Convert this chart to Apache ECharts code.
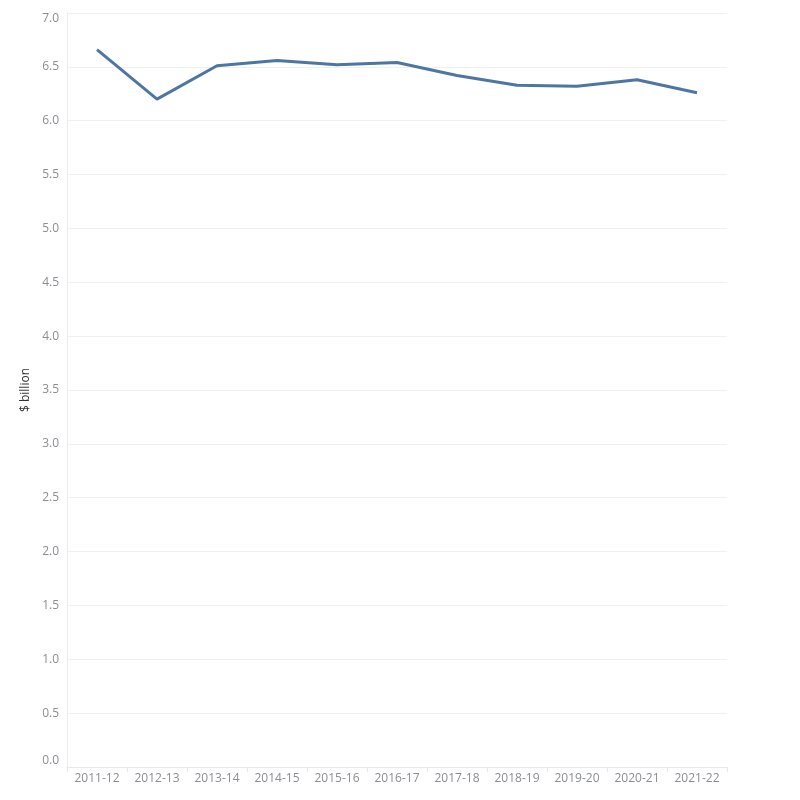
<!DOCTYPE html>
<html>
<head>
<meta charset="utf-8">
<script src="https://cdn.jsdelivr.net/npm/echarts@6/dist/echarts.min.js"></script>
<style>
  html, body { margin: 0; padding: 0; background: #fff; }
  #chart { width: 800px; height: 800px; }
</style>
</head>
<body>
<div id="chart"></div>
<script>
const years = [
  '2011-12', '2012-13', '2013-14', '2014-15', '2015-16', '2016-17',
  '2017-18', '2018-19', '2019-20', '2020-21', '2021-22'
];

const spending = [6.66, 6.20, 6.51, 6.56, 6.52, 6.54, 6.42, 6.33, 6.32, 6.38, 6.26];

const chart = echarts.init(document.getElementById('chart'));

chart.setOption({
  animation: false,
  grid: { left: 67, right: 73, top: 13, bottom: 33 },
  xAxis: {
    type: 'category',
    data: years,
    boundaryGap: true,
    axisLine: { show: true, lineStyle: { color: '#e8e8e8' } },
    axisTick: { show: true, length: 5, lineStyle: { color: '#e8e8e8' } },
    axisLabel: {
      color: '#8a8d93',
      fontFamily: 'Open Sans',
      fontSize: 12,
      margin: 6
    },
    splitLine: { show: false }
  },
  yAxis: {
    type: 'value',
    min: 0,
    max: 7,
    interval: 0.5,
    name: '$ billion',
    nameLocation: 'middle',
    nameGap: 31,
    nameTextStyle: { color: '#333', fontFamily: 'Open Sans', fontSize: 12 },
    axisLine: { show: true, lineStyle: { color: '#ececec' } },
    axisTick: { show: false },
    axisLabel: {
      color: '#8a8d93',
      fontFamily: 'Open Sans',
      fontSize: 12,
      margin: 8,
      formatter: (v) => v.toFixed(1),
      verticalAlignMaxLabel: 'top',
      verticalAlignMinLabel: 'bottom'
    },
    splitLine: { lineStyle: { color: '#f0f0f0' } }
  },
  series: [
    {
      type: 'line',
      data: spending,
      symbol: 'none',
      lineStyle: { width: 3, color: '#4e76a3' }
    }
  ]
});
</script>
</body>
</html>
